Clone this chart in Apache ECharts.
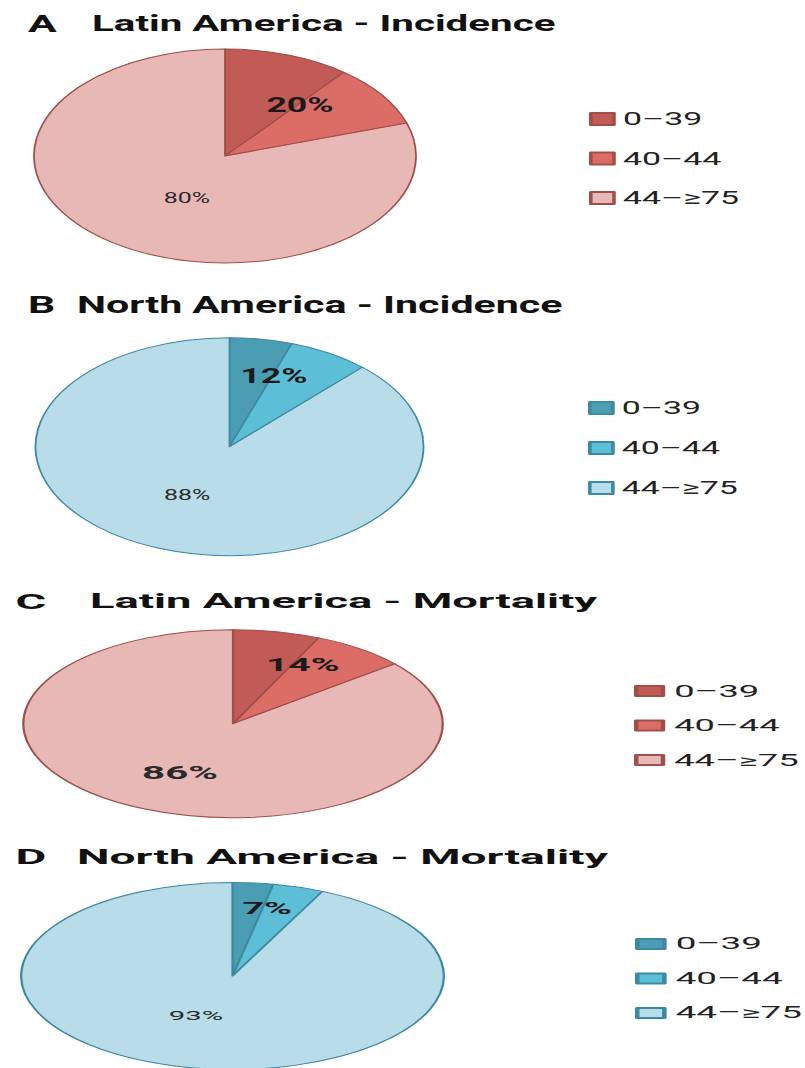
<!DOCTYPE html>
<html>
<head>
<meta charset="utf-8">
<script src="https://cdn.jsdelivr.net/npm/echarts@6/dist/echarts.min.js"></script>
<style>
html, body { margin: 0; padding: 0; background: #ffffff; width: 805px; height: 1068px; overflow: hidden; }
.panel { position: absolute; left: 0; top: 0; height: 1068px; transform-origin: 0 0; }
</style>
</head>
<body>
<div id="pA" class="panel"></div>
<div id="pB" class="panel"></div>
<div id="pC" class="panel"></div>
<div id="pD" class="panel"></div>
<script>
// ---------- data ----------
const ageGroups = ['0–39', '40–44', '44–≥75'];
const latinIncidence = [10.7, 9.3, 80];
const northIncidence = [5.2, 6.8, 88];
const latinMortality = [6.7, 7.3, 86];
const northMortality = [3.1, 3.9, 93];
const panelLetters = ['A', 'B', 'C', 'D'];
const panelTitles = ['Latin America - Incidence', 'North America - Incidence',
                     'Latin America - Mortality', 'North America - Mortality'];

// ---------- styles ----------
const redColors = ['#c25a55', '#db6d66', '#e8b8b7'];
const redBorder = '#a04e4a';
const blueColors = ['#4b9db3', '#5cbfd7', '#b8dde8'];
const blueBorder = '#3d89a0';
const FONT = 'Roboto, "Noto Sans", sans-serif';

// layout (page pixel coords; x is divided by the panel's horizontal stretch)
const panels = [
  { id: 'pA', values: latinIncidence, colors: redColors, border: redBorder, sx: 1.785,
    cx: 225, cy: 156, r: 107, letterX: 28, nameX: 92, titleY: 23.5, letterSize: 24, titleSize: 22.6,
    legendX: 589, legendY: 119, legendStep: 39.5, legendFont: 19, iconW: 13, iconH: 12,
    group: { size: 20, dx: 23.4, dy: 2.3 }, rest: { size: 14, bold: false, dx: 11.9, dy: -3.7 } },
  { id: 'pB', values: northIncidence, colors: blueColors, border: blueBorder, sx: 1.78,
    cx: 229.5, cy: 446.7, r: 109, letterX: 28, nameX: 77, titleY: 305, letterSize: 24, titleSize: 23.1,
    legendX: 588, legendY: 408, legendStep: 40, legendFont: 19, iconW: 13, iconH: 12,
    group: { size: 20, dx: 15.6, dy: -14 }, rest: { size: 14, bold: false, dx: -2.7, dy: -5.2 } },
  { id: 'pC', values: latinMortality, colors: redColors, border: redBorder, sx: 2.23,
    cx: 233, cy: 723.7, r: 94, letterX: 15.4, nameX: 90, titleY: 601.4, letterSize: 21, titleSize: 20.3,
    legendX: 634, legendY: 691, legendStep: 34.5, legendFont: 16.3, iconW: 12, iconH: 10,
    group: { size: 17.5, dx: 20.8, dy: -9.8 }, rest: { size: 18, bold: true, dx: -2.5, dy: 4.1 } },
  { id: 'pD', values: northMortality, colors: blueColors, border: blueBorder, sx: 2.26,
    cx: 232.5, cy: 976, r: 93.5, letterX: 15.4, nameX: 77, titleY: 857, letterSize: 21, titleSize: 20.4,
    legendX: 635, legendY: 944, legendStep: 34.5, legendFont: 16.3, iconW: 12, iconH: 10,
    group: { size: 16.7, dx: 10.5, dy: -18 }, rest: { size: 13, bold: false, dx: -5.3, dy: -8.5 } }
];

panels.forEach(function (cfg, i) {
  const el = document.getElementById(cfg.id);
  const w = 805 / cfg.sx;
  el.style.width = w + 'px';
  el.style.transform = 'scale(' + cfg.sx + ', 1)';
  const chart = echarts.init(el, null, { renderer: 'svg', width: w, height: 1068 });
  const vals = cfg.values;
  const data = ageGroups.map(function (name, k) {
    const item = {
      name: name,
      value: vals[k],
      itemStyle: { color: cfg.colors[k] }
    };
    if (k === 0) {
      item.label = { show: true, fontSize: cfg.group.size, fontWeight: 'bold', color: '#1a1a1a' };
    } else if (k === 1) {
      item.label = { show: false };
    } else {
      item.label = { show: true, fontSize: cfg.rest.size, fontWeight: cfg.rest.bold ? 'bold' : 'normal', color: '#2a2a2a' };
    }
    return item;
  });
  chart.setOption({
    animation: false,
    title: [
      { text: panelLetters[i], left: cfg.letterX / cfg.sx, top: cfg.titleY - cfg.letterSize / 2, padding: 0,
        textStyle: { fontFamily: FONT, fontWeight: 'bold', fontSize: cfg.letterSize, lineHeight: cfg.letterSize, color: '#111' } },
      { text: panelTitles[i], left: cfg.nameX / cfg.sx, top: cfg.titleY - cfg.titleSize / 2, padding: 0,
        textStyle: { fontFamily: FONT, fontWeight: 'bold', fontSize: cfg.titleSize, lineHeight: cfg.titleSize, color: '#111' } }
    ],
    legend: {
      orient: 'vertical',
      left: cfg.legendX / cfg.sx,
      top: cfg.legendY - cfg.legendFont / 2,
      padding: 0,
      itemWidth: cfg.iconW,
      itemHeight: cfg.iconH,
      itemGap: cfg.legendStep - cfg.legendFont,
      icon: 'rect',
      data: ageGroups,
      textStyle: { fontFamily: FONT, fontSize: cfg.legendFont, lineHeight: cfg.legendFont, color: '#222', padding: [0, 0, 0, 0] }
    },
    series: [{
      type: 'pie',
      center: [cfg.cx / cfg.sx, cfg.cy],
      radius: cfg.r,
      startAngle: 90,
      clockwise: true,
      silent: true,
      itemStyle: { borderColor: cfg.border, borderWidth: 1 },
      label: {
        position: 'inside',
        fontFamily: FONT,
        formatter: function (p) {
          if (p.dataIndex === 0) return Math.round(vals[0] + vals[1]) + '%';
          return Math.round(vals[p.dataIndex]) + '%';
        }
      },
      labelLine: { show: false },
      labelLayout: function (p) {
        const o = p.dataIndex === 0 ? cfg.group : cfg.rest;
        return {
          x: p.labelRect.x + p.labelRect.width / 2 + o.dx,
          y: p.labelRect.y + p.labelRect.height / 2 + o.dy,
          align: 'center',
          verticalAlign: 'middle'
        };
      },
      emphasis: { disabled: true },
      data: data
    }]
  });
});
</script>
</body>
</html>
